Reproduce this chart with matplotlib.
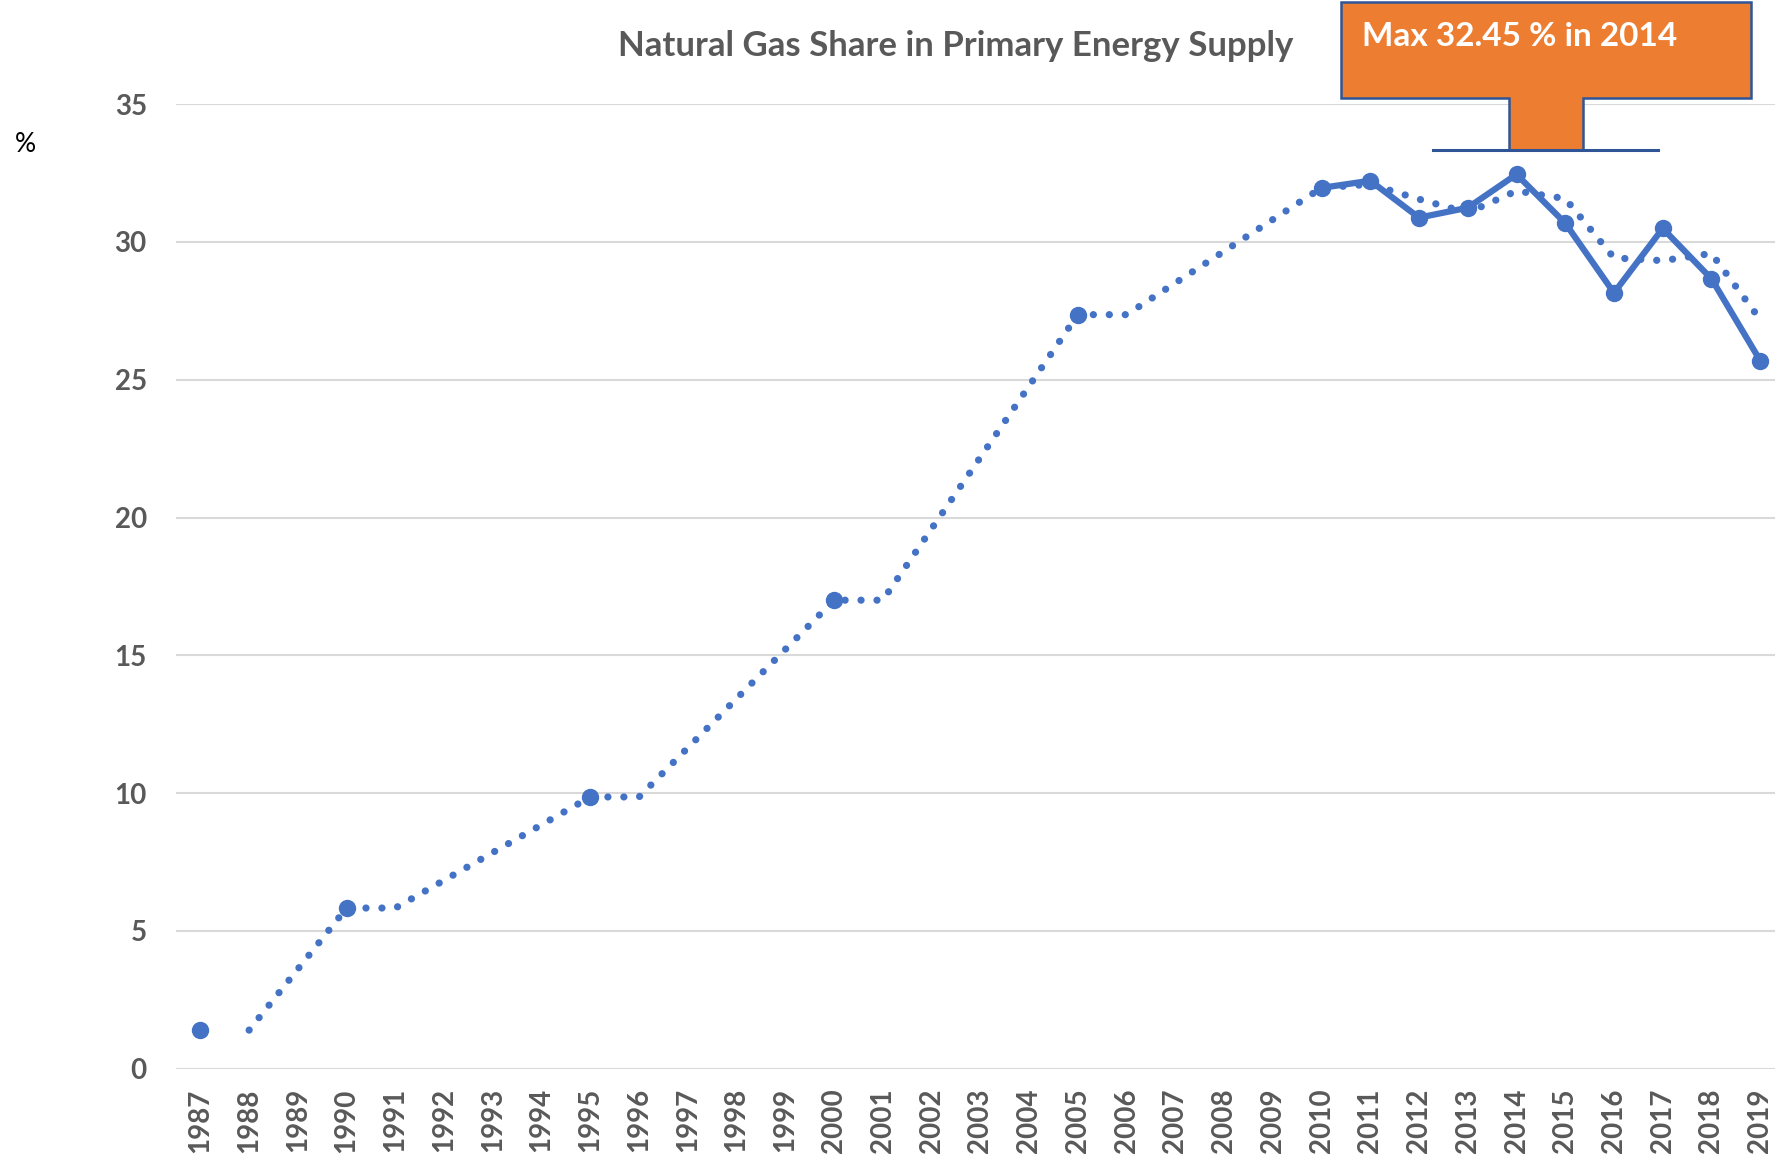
import numpy as np
import matplotlib
matplotlib.use("Agg")
import matplotlib.pyplot as plt
from matplotlib.patches import Polygon
from matplotlib.lines import Line2D

plt.rcParams['font.family'] = ['Lato', 'DejaVu Sans']

# --- datos ---
years = list(range(1987, 2020))
gas_share = [1.40, None, None, 5.83, None, None, None, None, 9.86, None, None, None, None,
             17.0, None, None, None, None, 27.36, None, None, None, None,
             31.96, 32.22, 30.88, 31.24, 32.45, 30.68, 28.15, 30.49, 28.66, 25.69]
# media movil (2 periodos)
ma_years = [1988, 1990, 1991, 1995, 1996, 2000, 2001, 2005, 2006,
            2010, 2011, 2012, 2013, 2014, 2015, 2016, 2017, 2018, 2019]
ma_values = [1.40, 5.83, 5.83, 9.86, 9.86, 17.0, 17.0, 27.36, 27.36,
             31.96, 32.09, 31.55, 31.06, 31.85, 31.57, 29.42, 29.32, 29.58, 27.18]
yticks = [0, 5, 10, 15, 20, 25, 30, 35]
title = "Natural Gas Share in Primary Energy Supply"
callout = "Max 32.45 % in 2014"

BLUE = '#4472C4'
GRAY = '#595959'
W, H = 1775, 1158

fig = plt.figure(figsize=(W / 100, H / 100), dpi=100)
ax = fig.add_axes([176 / W, 1 - 1068.7 / H, 1608.6 / W, (1068.7 - 104.1) / H])

y = np.array([np.nan if v is None else v for v in gas_share], dtype=float)

ax.plot(years, y, color=BLUE, linewidth=4.5, marker='o', markersize=11.5,
        solid_capstyle='round', zorder=3)
ax.plot(ma_years, ma_values, color=BLUE, linewidth=5.2, linestyle=(0, (0.01, 2.2)),
        dash_capstyle='round', zorder=4)

ax.set_xlim(1986.5, 2019.5)
ax.set_ylim(0, 35)
ax.set_xticks(years)
ax.set_xticklabels([str(v) for v in years], rotation=90, fontsize=20,
                   fontweight='bold', color=GRAY)
ax.set_yticks(yticks)
ax.set_yticklabels([str(v) for v in yticks], fontsize=20, fontweight='bold', color=GRAY)
ax.tick_params(axis='x', length=0, pad=14)
ax.tick_params(axis='y', length=0, pad=21)
ax.grid(axis='y', color='#D9D9D9', linewidth=1.5)
ax.set_axisbelow(True)
for s in ax.spines.values():
    s.set_visible(False)

fig.text(956 / W, 1 - 46 / H, title, ha='center', va='center', fontsize=25,
         fontweight='bold', color=GRAY)
fig.text(25 / W, 1 - 145 / H, '%', ha='center', va='center', fontsize=19, color='black')

# --- llamada (callout) ---
def fx(px): return px / W
def fy(py): return 1 - py / H

shape = [(1341, 2), (1751, 2), (1751, 98), (1583, 98), (1583, 150),
         (1509, 150), (1509, 98), (1341, 98)]
fig.add_artist(Polygon([(fx(a), fy(b)) for a, b in shape], closed=True,
                       facecolor='#ED7D31', edgecolor='#2F5597', linewidth=1.8,
                       transform=fig.transFigure, zorder=5))
fig.add_artist(Line2D([fx(1433), fx(1658)], [fy(150), fy(150)], color='#2F5597',
                      linewidth=2.2, transform=fig.transFigure, zorder=6))
fig.text(fx(1362), fy(36), callout, ha='left', va='center', fontsize=24,
         fontweight='bold', color='white', zorder=7)

fig.savefig('out.png', dpi=100)
